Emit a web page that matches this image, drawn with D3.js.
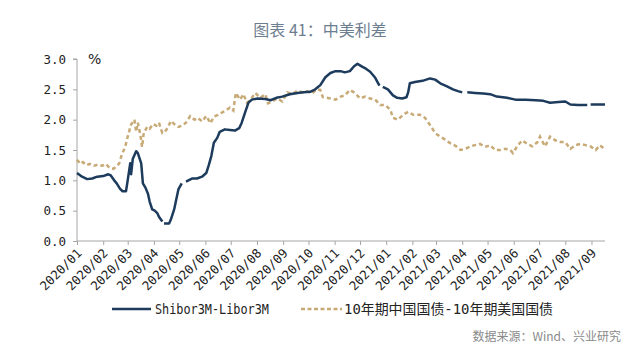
<!DOCTYPE html>
<html><head><meta charset="utf-8">
<script src="https://cdn.jsdelivr.net/npm/d3@7"></script>
<style>body{margin:0;background:#fff}svg{display:block}</style>
</head><body>
<svg id="c" width="640" height="356"></svg>
<script>
const title = "图表 41：中美利差";
const source = "数据来源：Wind、兴业研究";
const seriesNames = ["Shibor3M-Libor3M", "10年期中国国债-10年期美国国债"];
const yTicks = [0, 0.5, 1.0, 1.5, 2.0, 2.5, 3.0];
const xTickStart = "2020-01-01", xTickEnd = "2021-09-01";
const xDomain = ["2020-01-01", "2021-09-17"];

const shiborDates = ["2020-01-01","2020-01-07","2020-01-13","2020-01-19","2020-01-25","2020-02-01","2020-02-07","2020-02-10","2020-02-14","2020-02-17","2020-02-21","2020-02-24","2020-02-28","2020-03-01","2020-03-04","2020-03-05","2020-03-07","2020-03-11","2020-03-13","2020-03-17","2020-03-19","2020-03-22","2020-03-25","2020-03-27","2020-03-30","2020-04-02","2020-04-05","2020-04-07","2020-04-11","2020-04-12","2020-04-13","2020-04-19","2020-04-21","2020-04-25","2020-04-27","2020-04-30","2020-05-04","2020-05-06","2020-05-09","2020-05-16","2020-05-22","2020-05-28","2020-06-02","2020-06-05","2020-06-08","2020-06-11","2020-06-15","2020-06-18","2020-06-24","2020-06-30","2020-07-06","2020-07-11","2020-07-14","2020-07-18","2020-07-22","2020-07-26","2020-08-02","2020-08-11","2020-08-17","2020-08-24","2020-08-31","2020-09-09","2020-09-18","2020-09-25","2020-10-03","2020-10-09","2020-10-15","2020-10-21","2020-10-27","2020-11-02","2020-11-08","2020-11-13","2020-11-19","2020-11-24","2020-11-28","2020-12-04","2020-12-08","2020-12-13","2020-12-19","2020-12-24","2020-12-26","2020-12-28","2021-01-03","2021-01-09","2021-01-14","2021-01-20","2021-01-25","2021-01-27","2021-01-29","2021-02-04","2021-02-13","2021-02-22","2021-02-28","2021-03-06","2021-03-14","2021-03-21","2021-03-27","2021-04-01","2021-04-03","2021-04-07","2021-04-16","2021-04-26","2021-05-04","2021-05-12","2021-05-24","2021-06-03","2021-06-15","2021-06-27","2021-07-06","2021-07-14","2021-07-24","2021-08-01","2021-08-07","2021-08-16","2021-08-27","2021-08-28","2021-08-31","2021-09-09","2021-09-17"];
const shiborValues = [1.12,1.06,1.02,1.03,1.06,1.07,1.10,1.08,1.00,0.95,0.86,0.82,0.82,1.00,1.28,1.10,1.35,1.48,1.45,1.28,0.95,0.88,0.78,0.65,0.52,0.50,0.46,0.40,0.32,null,0.29,0.29,0.35,0.52,0.65,0.85,0.95,null,0.98,1.03,1.03,1.06,1.12,1.25,1.40,1.62,1.70,1.80,1.84,1.83,1.82,1.86,1.95,2.12,2.28,2.33,2.35,2.34,2.32,2.36,2.38,2.42,2.44,2.45,2.46,2.50,2.57,2.70,2.77,2.80,2.80,2.78,2.80,2.88,2.92,2.87,2.84,2.79,2.69,2.56,null,2.54,2.50,2.40,2.36,2.35,2.37,2.45,2.60,2.62,2.64,2.68,2.66,2.60,2.55,2.50,2.47,2.45,null,2.45,2.44,2.43,2.42,2.38,2.36,2.33,2.33,2.32,2.31,2.28,2.29,2.30,2.25,2.24,2.24,null,2.25,2.25,2.25];

const bondDates = ["2020-01-01","2020-01-05","2020-01-08","2020-01-12","2020-01-16","2020-01-21","2020-01-26","2020-01-31","2020-02-04","2020-02-09","2020-02-13","2020-02-16","2020-02-20","2020-02-23","2020-02-27","2020-03-01","2020-03-05","2020-03-09","2020-03-11","2020-03-13","2020-03-16","2020-03-18","2020-03-20","2020-03-24","2020-03-27","2020-03-31","2020-04-04","2020-04-07","2020-04-11","2020-04-14","2020-04-18","2020-04-21","2020-04-25","2020-04-30","2020-05-04","2020-05-09","2020-05-14","2020-05-19","2020-05-23","2020-05-28","2020-06-02","2020-06-07","2020-06-11","2020-06-16","2020-06-21","2020-06-25","2020-06-30","2020-07-04","2020-07-07","2020-07-12","2020-07-16","2020-07-20","2020-07-24","2020-07-30","2020-08-05","2020-08-11","2020-08-14","2020-08-19","2020-08-25","2020-08-31","2020-09-06","2020-09-12","2020-09-18","2020-09-24","2020-09-29","2020-10-05","2020-10-11","2020-10-15","2020-10-18","2020-10-27","2020-11-02","2020-11-08","2020-11-13","2020-11-19","2020-11-25","2020-12-01","2020-12-07","2020-12-13","2020-12-19","2020-12-25","2020-12-31","2021-01-06","2021-01-09","2021-01-15","2021-01-21","2021-01-27","2021-02-02","2021-02-10","2021-02-16","2021-02-22","2021-02-28","2021-03-06","2021-03-12","2021-03-18","2021-03-24","2021-03-30","2021-04-05","2021-04-11","2021-04-16","2021-04-22","2021-04-28","2021-05-04","2021-05-10","2021-05-16","2021-05-22","2021-05-28","2021-05-31","2021-06-05","2021-06-11","2021-06-17","2021-06-23","2021-06-29","2021-07-02","2021-07-08","2021-07-14","2021-07-20","2021-07-26","2021-08-01","2021-08-07","2021-08-13","2021-08-19","2021-08-25","2021-08-31","2021-09-06","2021-09-11","2021-09-16"];
const bondValues = [1.34,1.27,1.30,1.25,1.27,1.24,1.26,1.24,1.27,1.20,1.19,1.22,1.28,1.42,1.55,1.72,1.92,2.00,1.80,1.95,1.75,1.55,1.78,1.88,1.85,1.93,1.90,1.95,1.78,1.80,1.88,1.98,1.93,1.88,1.90,1.95,2.06,2.00,2.03,1.97,2.06,1.94,2.05,2.08,2.12,2.15,2.20,2.15,2.44,2.33,2.42,2.28,2.32,2.44,2.36,2.42,2.27,2.30,2.35,2.30,2.45,2.42,2.48,2.45,2.47,2.43,2.50,2.49,2.37,2.35,2.33,2.38,2.40,2.49,2.44,2.35,2.38,2.35,2.33,2.24,2.24,2.16,2.03,2.00,2.08,2.13,2.08,2.08,2.03,1.91,1.78,1.72,1.67,1.61,1.57,1.50,1.52,1.56,1.58,1.60,1.55,1.58,1.50,1.50,1.52,1.50,1.45,1.56,1.66,1.60,1.56,1.63,1.72,1.56,1.72,1.66,1.63,1.63,1.52,1.58,1.60,1.58,1.56,1.50,1.58,1.52];

const parse = d3.utcParse("%Y-%m-%d");
const svg = d3.select("#c");
const x = d3.scaleUtc().domain(xDomain.map(parse)).range([77, 605]);
const y = d3.scaleLinear().domain([0, 3]).range([241, 59]);
const navy = "#1d3b5c", tan = "#c8aa76", axisCol = "#a6a6a6";
const monoFont = "'DejaVu Sans Mono', 'Noto Sans CJK SC', monospace";

// title
svg.append("text").attr("x", 320).attr("y", 36).attr("text-anchor", "middle")
  .attr("font-family", "'Noto Sans CJK SC', sans-serif").attr("font-size", 16)
  .attr("fill", "#6d7e90").text(title);

// y axis
const yAxis = svg.append("g").attr("transform", "translate(77,0)")
  .call(d3.axisLeft(y).tickValues(yTicks).tickSize(4).tickPadding(7).tickFormat(d3.format(".1f")));
yAxis.select(".domain").attr("stroke", axisCol).attr("d", `M-4,${y(3)}H0V${y(0)}`);
yAxis.selectAll(".tick line").attr("stroke", axisCol);
yAxis.selectAll(".tick text").attr("font-family", monoFont).attr("font-size", 12.5).attr("fill", "#222");

svg.append("text").attr("x", 88).attr("y", 64).attr("font-family", "'DejaVu Sans', sans-serif")
  .attr("font-size", 14).attr("fill", "#222").text("%");

// x axis
const monthTicks = d3.utcMonth.range(parse(xTickStart), d3.utcDay.offset(parse(xTickEnd), 1));
const xAxis = svg.append("g").attr("transform", "translate(0,241)")
  .call(d3.axisBottom(x).tickValues(monthTicks).tickSize(4).tickFormat(d3.utcFormat("%Y/%m")));
xAxis.select(".domain").attr("stroke", axisCol).attr("d", `M77,0H605`);
xAxis.selectAll(".tick line").attr("stroke", axisCol);
xAxis.selectAll(".tick text").attr("font-family", monoFont).attr("font-size", 12.5).attr("fill", "#222")
  .attr("text-anchor", "end").attr("dy", 0).attr("y", 0)
  .attr("transform", "translate(5,13) rotate(-45)");

// lines
const shibor = shiborDates.map((d, i) => ({ date: parse(d), v: shiborValues[i] }));
const bond = bondDates.map((d, i) => ({ date: parse(d), v: bondValues[i] }));
const line = d3.line().defined(d => d.v != null).x(d => x(d.date)).y(d => y(d.v));

svg.append("path").datum(bond).attr("d", line).attr("fill", "none")
  .attr("stroke", tan).attr("stroke-width", 2.5).attr("stroke-dasharray", "4,3");
svg.append("path").datum(shibor).attr("d", line).attr("fill", "none")
  .attr("stroke", navy).attr("stroke-width", 2.5).attr("stroke-linejoin", "round");

// legend
const lg = svg.append("g");
lg.append("line").attr("x1", 112).attr("x2", 151).attr("y1", 309).attr("y2", 309)
  .attr("stroke", navy).attr("stroke-width", 2.6);
lg.append("text").attr("x", 155).attr("y", 314).attr("font-family", monoFont).attr("font-size", 13.5)
  .attr("fill", "#222").attr("textLength", 114).attr("lengthAdjust", "spacingAndGlyphs").text(seriesNames[0]);
lg.append("line").attr("x1", 301).attr("x2", 342).attr("y1", 309).attr("y2", 309)
  .attr("stroke", tan).attr("stroke-width", 2.6).attr("stroke-dasharray", "4,2.5");
lg.append("text").attr("x", 344).attr("y", 314).attr("font-family", monoFont).attr("font-size", 13.5)
  .attr("fill", "#222").attr("textLength", 209).attr("lengthAdjust", "spacingAndGlyphs").text(seriesNames[1]);

// source
svg.append("text").attr("x", 621).attr("y", 341).attr("text-anchor", "end")
  .attr("font-family", "'Noto Sans CJK SC', sans-serif").attr("font-size", 12)
  .attr("fill", "#8a8a8a").text(source);
</script>
</body></html>
